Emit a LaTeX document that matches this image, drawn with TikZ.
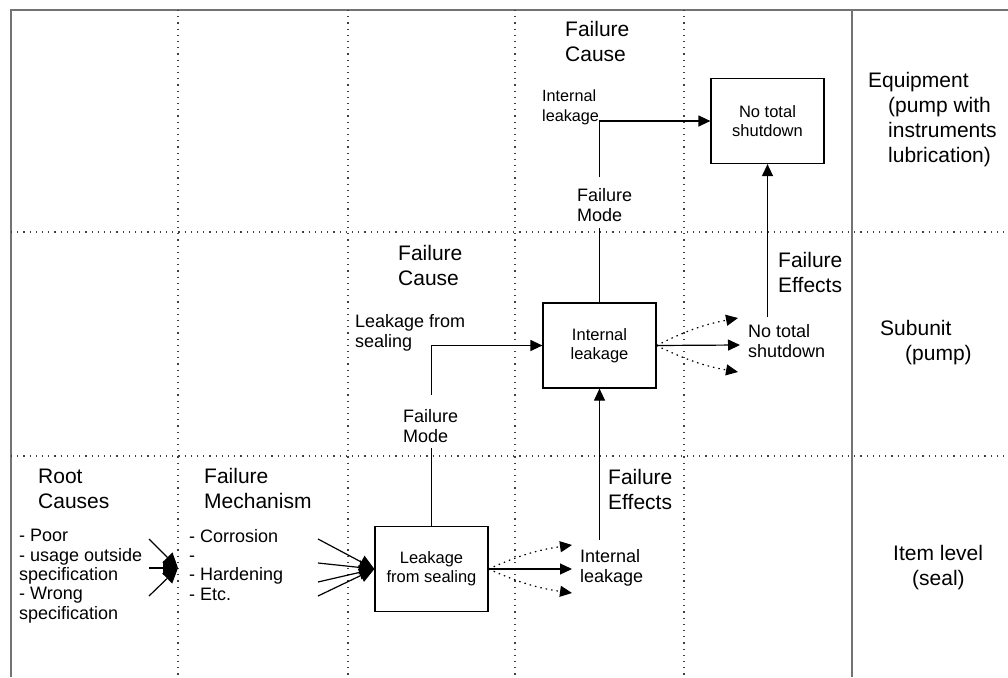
\documentclass[tikz,border=0pt]{standalone}
\usepackage{fontspec}
\setmainfont{Liberation Sans}
\usetikzlibrary{arrows.meta}
\newcommand{\bigtxt}{\fontsize{21}{25}\selectfont}
\newcommand{\smtxt}{\fontsize{18}{19.3}\selectfont}
\newcommand{\boxtxt}{\fontsize{16.5}{19}\selectfont}
\begin{document}
\begin{tikzpicture}[x=1pt,y=-1pt,
  frame/.style={draw=black!55,line width=2pt},
  grid/.style={draw=black!75,line width=1.1pt,dash pattern=on 1.2pt off 5pt},
  lbl/.style={anchor=base west,inner sep=0pt,align=left},
  big/.style={lbl,font=\bigtxt},
  small/.style={lbl,font=\smtxt},
  fm/.style={draw,line width=1.2pt,minimum width=113pt,minimum height=85pt,align=center,font=\boxtxt,inner sep=0pt},
  plain/.style={line width=1.2pt},
  link/.style={plain,-{Triangle[length=12pt,width=11pt]}},
  maybe/.style={plain,dash pattern=on 1.5pt off 4pt,-{Triangle[length=12pt,width=11pt]}},
  cause/.style={plain,-{Triangle[length=15pt,width=14pt]}}]
\useasboundingbox (0,0) rectangle (1008,677);
\draw[frame] (11,677) -- (11,10) -- (1008,10);
\draw[frame] (852,10) -- (852,677);
\foreach \x in {178,348,515,684} \draw[grid] (\x,10) -- (\x,677);
\foreach \y in {232,456} \draw[grid] (11,\y) -- (1008,\y);
\node[big] (rootlbl) at (38,508) {Root\\Causes};
\node[big] (mechlbl) at (204,508) {Failure\\Mechanism};
\node[small] (rootlist) at (19,619) {- Poor\\- usage outside\\specification\\- Wrong\\specification};
\node[small] (mechlist) at (189,600) {- Corrosion\\-\\- Hardening\\- Etc.};
\node[big] (causemid) at (398,285) {Failure\\Cause};
\node[small] (leaklbl) at (355,347) {Leakage from\\sealing};
\node[small] (modemid) at (403,442) {Failure\\Mode};
\node[big] (effbot) at (608,509) {Failure\\Effects};
\node[big] (causetop) at (565,62) {Failure\\Cause};
\node[small,font=\fontsize{16.2}{19.5}\selectfont] (intlbl) at (542,121) {Internal\\leakage};
\node[small] (modetop) at (577,221) {Failure\\Mode};
\node[big] (efftop) at (778,292) {Failure\\Effects};
\node[small] (shutlbl) at (748,357) {No total\\shutdown};
\node[small] (intbot) at (580,582) {Internal\\leakage};
\node[big] (equip) at (868,162) {Equipment\\\hspace*{20pt}(pump with\\\hspace*{20pt}instruments\\\hspace*{20pt}lubrication)};
\node[big] (subunit) at (880,360) {Subunit\\\hspace*{25pt}(pump)};
\node[big] (item) at (893,585) {Item level\\\hspace*{19pt}(seal)};
\node[fm] (box1) at (431.5,569) {Leakage\\from sealing};
\node[fm] (box2) at (599.5,345.5) {Internal\\leakage};
\node[fm] (box3) at (767.5,121) {No total\\shutdown};
\coordinate (m1lo) at (430,448);
\coordinate (m1hi) at (430,395);
\coordinate (m2lo) at (599,228);
\coordinate (m2hi) at (599,177);
\coordinate (e1) at (599,540);
\coordinate (e2) at (767,317);
\draw[plain] (box1.north) -- (box1.north |- m1lo);
\draw[link] (box1.north |- m1hi) |- (box2.west);
\draw[plain] (box2.north) -- (box2.north |- m2lo);
\draw[link] (box2.north |- m2hi) |- (box3.west);
\draw[link] (box2.south |- e1) -- (box2.south);
\draw[link] (box3.south |- e2) -- (box3.south);
\coordinate (t1) at (572,569);
\coordinate (t1u) at (572,545);
\coordinate (t1d) at (572,593);
\draw[link] (box1.east) -- (t1);
\draw[maybe] (box1.east) to[bend left=8] (t1u);
\draw[maybe] (box1.east) to[bend right=8] (t1d);
\coordinate (t2) at (740,345);
\coordinate (t2u) at (738,318);
\coordinate (t2d) at (738,372);
\draw[link] (box2.east) -- (t2);
\draw[maybe] (box2.east) to[bend left=8] (t2u);
\draw[maybe] (box2.east) to[bend right=8] (t2d);
\foreach \n/\yy in {1/539,2/568,3/596} \coordinate (r\n) at (149,\yy);
\coordinate (rt) at (178,568);
\foreach \n in {1,2,3} \draw[cause] (r\n) -- (rt);
\foreach \n/\yy in {1/539,2/563,3/582,4/596} \coordinate (c\n) at (318,\yy);
\foreach \n in {1,...,4} \draw[cause] (c\n) -- (box1.west);
\end{tikzpicture}
\end{document}
